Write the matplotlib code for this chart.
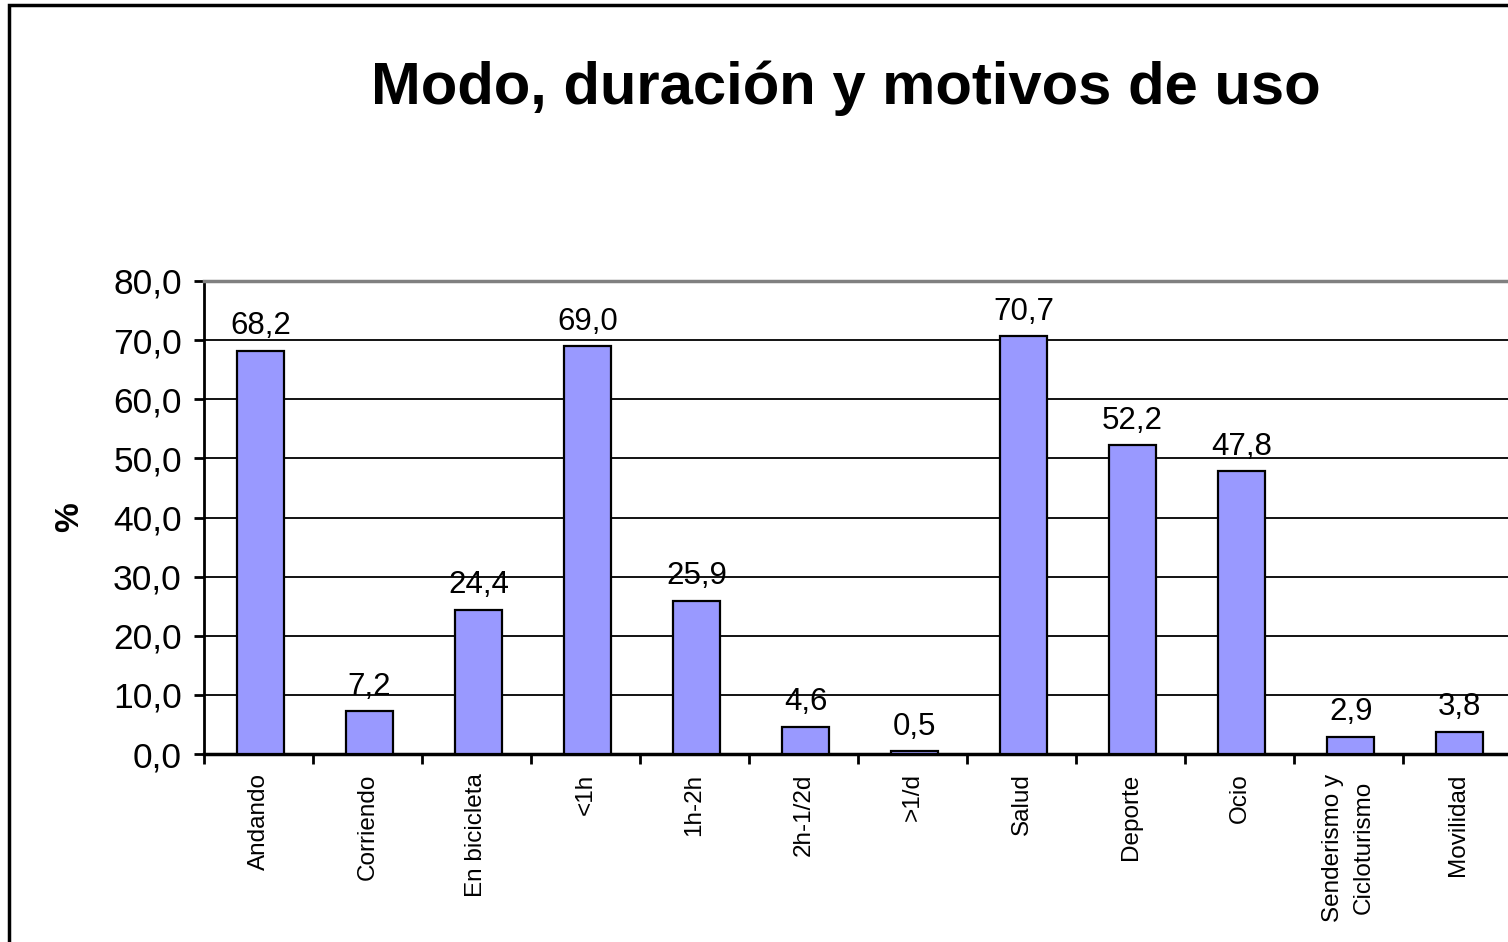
import matplotlib.pyplot as plt
import numpy as np
from matplotlib.patches import Rectangle

plt.rcParams['font.family'] = ['Liberation Sans', 'DejaVu Sans']

categorias = ["Andando", "Corriendo", "En bicicleta", "<1h", "1h-2h", "2h-1/2d",
              ">1/d", "Salud", "Deporte", "Ocio", "Senderismo y\nCicloturismo",
              "Movilidad"]
valores = [68.2, 7.2, 24.4, 69.0, 25.9, 4.6, 0.5, 70.7, 52.2, 47.8, 2.9, 3.8]
yticks = np.arange(0, 81, 10)

fig = plt.figure(figsize=(15.08, 9.42), dpi=100)
ax = fig.add_axes([204/1508, 1 - 754/942, (1512 - 204)/1508, (754 - 281)/942])

x = np.arange(len(categorias))
ax.bar(x + 0.02, valores, width=0.43, color="#9999FF", edgecolor="black",
       linewidth=1.6, zorder=3)

for xi, v in zip(x, valores):
    ax.text(xi + 0.02, v + 1.6, f"{v:.1f}".replace(".", ","), ha="center",
            va="bottom", fontsize=22.5)

ax.set_xlim(-0.5, len(categorias) - 0.5)
ax.set_ylim(0, 80)
ax.set_yticks(yticks)
ax.set_yticklabels([f"{t:.1f}".replace(".", ",") for t in yticks], fontsize=25.5)
ax.yaxis.grid(True, color="black", linewidth=1.3, zorder=0)
ax.set_axisbelow(True)

# ticks at category boundaries, labels at centres
ax.set_xticks(np.arange(len(categorias) + 1) - 0.5)
ax.set_xticklabels([])
ax.set_xticks(x, minor=True)
ax.set_xticklabels(categorias, minor=True, rotation=90, fontsize=17.5,
                   ha="center", va="top", multialignment="center",
                   linespacing=1.5)
ax.tick_params(axis="x", which="minor", length=0, pad=14)
ax.tick_params(axis="x", which="major", length=7, width=2, direction="out")
ax.tick_params(axis="y", length=7, width=2, direction="out", pad=9)

ax.spines["top"].set_color("#808080")
ax.spines["top"].set_linewidth(2.5)
ax.spines["left"].set_linewidth(2)
ax.spines["bottom"].set_linewidth(2.5)
ax.spines["right"].set_visible(False)

ax.set_ylabel("%", fontsize=24, fontweight="bold", labelpad=20)

fig.text(846/1508, 1 - 88/942, "Modo, duración y motivos de uso", ha="center",
         va="center", fontsize=43, fontweight="bold")

# chart frame
fig.patches.append(Rectangle((9/1508, -0.05), 1.1, 1 - 5/942 + 0.05,
                             transform=fig.transFigure, fill=False,
                             edgecolor="black", linewidth=2.5))

fig.savefig("out.png", dpi=100)
